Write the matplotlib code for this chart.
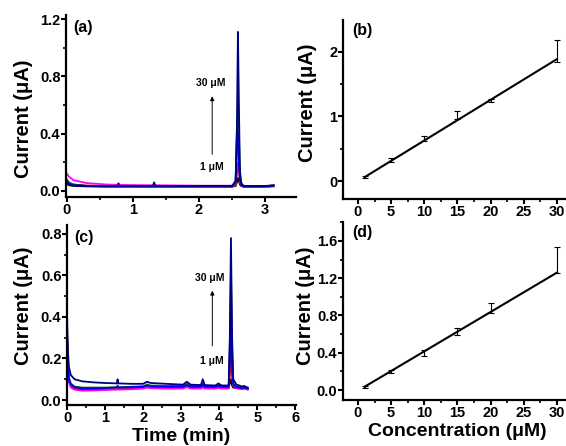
import matplotlib
matplotlib.use('Agg')
import matplotlib.pyplot as plt
from matplotlib.ticker import MultipleLocator, FormatStrFormatter

plt.rcParams['font.family'] = ['Liberation Sans', 'DejaVu Sans']
plt.rcParams['font.weight'] = 'bold'

# ---- panel (a): chromatograms, first electrode ----
t_a = [0.0, 0.03, 0.1, 0.3, 0.6, 0.76, 0.78, 0.80, 1.30, 1.32, 1.34, 2.0, 2.5,
       2.555, 2.575, 2.59, 2.605, 2.62, 2.64, 2.68, 3.0, 3.13]
a_black = [0.05, 0.04, 0.035, 0.032, 0.03, 0.03, 0.03, 0.03, 0.03, 0.03, 0.03, 0.03, 0.03,
           0.035, 0.06, 0.09, 0.07, 0.045, 0.035, 0.03, 0.03, 0.032]
a_red = [0.07, 0.055, 0.045, 0.038, 0.035, 0.035, 0.035, 0.035, 0.033, 0.033, 0.033, 0.032, 0.032,
         0.04, 0.12, 0.2, 0.15, 0.06, 0.035, 0.028, 0.03, 0.035]
a_magenta = [0.12, 0.1, 0.075, 0.055, 0.045, 0.043, 0.055, 0.042, 0.04, 0.045, 0.04, 0.037, 0.037,
             0.05, 0.25, 0.55, 0.3, 0.08, 0.04, 0.03, 0.03, 0.04]
a_green = [0.08, 0.06, 0.045, 0.035, 0.03, 0.03, 0.03, 0.03, 0.03, 0.03, 0.03, 0.03, 0.03,
           0.05, 0.35, 0.66, 0.4, 0.15, 0.06, 0.03, 0.03, 0.035]
a_blue = [0.07, 0.05, 0.04, 0.035, 0.034, 0.034, 0.034, 0.034, 0.034, 0.034, 0.034, 0.034, 0.034,
          0.06, 0.42, 0.4, 0.2, 0.08, 0.04, 0.033, 0.033, 0.038]
a_navy = [0.06, 0.045, 0.04, 0.035, 0.035, 0.035, 0.05, 0.035, 0.035, 0.06, 0.035, 0.035, 0.035,
          0.07, 0.45, 1.11, 0.6, 0.12, 0.05, 0.035, 0.035, 0.04]

# ---- panel (c): chromatograms, second electrode ----
t_c = [0.0, 0.02, 0.05, 0.1, 0.2, 0.4, 0.7, 1.0, 1.31, 1.33, 1.35, 1.7, 2.0, 2.1, 2.2, 2.6,
       3.05, 3.15, 3.25, 3.52, 3.57, 3.62, 3.9, 3.98, 4.06, 4.25, 4.28, 4.31, 4.34, 4.37,
       4.45, 4.6, 4.65, 4.75]
c_black = [0.3, 0.15, 0.09, 0.065, 0.055, 0.05, 0.05, 0.052, 0.055, 0.06, 0.055, 0.056, 0.058,
           0.062, 0.06, 0.058, 0.058, 0.065, 0.058, 0.058, 0.065, 0.058, 0.058, 0.062, 0.058,
           0.058, 0.08, 0.1, 0.07, 0.06, 0.058, 0.055, 0.057, 0.052]
c_red = [0.32, 0.18, 0.1, 0.07, 0.06, 0.055, 0.055, 0.056, 0.058, 0.065, 0.058, 0.06, 0.062,
         0.068, 0.064, 0.062, 0.062, 0.07, 0.062, 0.062, 0.07, 0.062, 0.062, 0.066, 0.062,
         0.062, 0.12, 0.2, 0.11, 0.07, 0.062, 0.058, 0.06, 0.055]
c_magenta = [0.3, 0.16, 0.09, 0.06, 0.05, 0.045, 0.046, 0.048, 0.05, 0.055, 0.05, 0.052, 0.055,
             0.06, 0.057, 0.055, 0.055, 0.062, 0.055, 0.055, 0.06, 0.055, 0.055, 0.058, 0.055,
             0.055, 0.2, 0.5, 0.2, 0.07, 0.056, 0.052, 0.054, 0.05]
c_green = [0.35, 0.2, 0.11, 0.08, 0.065, 0.06, 0.06, 0.06, 0.062, 0.07, 0.062, 0.064, 0.066,
           0.075, 0.07, 0.068, 0.068, 0.078, 0.068, 0.068, 0.08, 0.068, 0.068, 0.072, 0.068,
           0.068, 0.25, 0.62, 0.25, 0.08, 0.065, 0.06, 0.062, 0.058]
c_blue = [0.33, 0.19, 0.1, 0.075, 0.062, 0.057, 0.057, 0.058, 0.06, 0.066, 0.06, 0.062, 0.064,
          0.07, 0.066, 0.064, 0.064, 0.072, 0.064, 0.064, 0.074, 0.064, 0.064, 0.068, 0.064,
          0.064, 0.18, 0.4, 0.16, 0.075, 0.062, 0.058, 0.06, 0.056]
c_navy = [0.42, 0.25, 0.16, 0.12, 0.1, 0.09, 0.085, 0.082, 0.08, 0.1, 0.08, 0.078, 0.078,
          0.088, 0.082, 0.078, 0.074, 0.088, 0.074, 0.072, 0.1, 0.072, 0.07, 0.08, 0.07,
          0.07, 0.3, 0.78, 0.3, 0.1, 0.075, 0.065, 0.068, 0.06]

trace_colors = ['black', 'red', 'magenta', 'green', 'blue', 'navy']

# ---- calibration panels (b) and (d) ----
conc = [1, 5, 10, 15, 20, 30]
b_current = [0.06, 0.325, 0.66, 1.02, 1.245, 2.02]
b_err = [0.01, 0.025, 0.04, 0.06, 0.025, 0.17]
b_fit = (0.0631, -0.003)
d_current = [0.035, 0.195, 0.40, 0.63, 0.88, 1.40]
d_err = [0.01, 0.015, 0.03, 0.04, 0.05, 0.14]
d_fit = (0.04224, -0.007)

LABEL_SIZE = 14.5

fig = plt.figure(figsize=(5.66, 4.46), dpi=100)
W, H = 566.0, 446.0


def add_ax(l, t, r, b):
    return fig.add_axes([l / W, 1 - b / H, (r - l) / W, (b - t) / H])


def style(ax):
    for s in ['top', 'right']:
        ax.spines[s].set_visible(False)
    for s in ['left', 'bottom']:
        ax.spines[s].set_linewidth(1.6)
    ax.tick_params(which='major', direction='out', length=3.5, width=1.5, labelsize=10.5, pad=0.5)
    ax.tick_params(which='minor', direction='out', length=2.2, width=1.2)
    for lab in ax.get_xticklabels() + ax.get_yticklabels():
        lab.set_fontweight('bold')


ax_a = add_ax(66, 15, 296, 197)
ax_b = add_ax(343, 20, 566, 199)
ax_c = add_ax(67, 225, 296, 405)
ax_d = add_ax(343, 222, 566, 400)

# (a)
for c, y in zip(trace_colors, [a_black, a_red, a_magenta, a_green, a_blue, a_navy]):
    ax_a.plot(t_a, y, color=c, lw=1.3)
ax_a.set_xlim(-0.015, 3.47)
ax_a.set_ylim(-0.042, 1.228)
ax_a.xaxis.set_major_locator(MultipleLocator(1))
ax_a.xaxis.set_minor_locator(MultipleLocator(0.5))
ax_a.yaxis.set_major_locator(MultipleLocator(0.4))
ax_a.yaxis.set_minor_locator(MultipleLocator(0.2))
ax_a.yaxis.set_major_formatter(FormatStrFormatter('%.1f'))
ax_a.text(2.18, 0.754, '30 μM', fontsize=7.5, fontweight='bold', ha='center', va='center')
ax_a.text(2.19, 0.167, '1 μM', fontsize=7.5, fontweight='bold', ha='center', va='center')
ax_a.annotate('', xy=(2.2, 0.68), xytext=(2.2, 0.237),
              arrowprops=dict(arrowstyle='-|>', color='black', lw=0.7, mutation_scale=6))
ax_a.text(0.03, 0.97, '(a)', transform=ax_a.transAxes, fontsize=11.5, fontweight='bold', va='top')
ax_a.set_ylabel('Current (μA)', fontsize=LABEL_SIZE, fontweight='bold')
ax_a.yaxis.set_label_coords(-0.143, 0.43)

# (c)
for c, y in zip(trace_colors, [c_black, c_red, c_magenta, c_green, c_blue, c_navy]):
    ax_c.plot(t_c, y, color=c, lw=1.3)
ax_c.set_xlim(0, 6.02)
ax_c.set_ylim(-0.024, 0.843)
ax_c.xaxis.set_major_locator(MultipleLocator(1))
ax_c.xaxis.set_minor_locator(MultipleLocator(0.5))
ax_c.yaxis.set_major_locator(MultipleLocator(0.2))
ax_c.yaxis.set_minor_locator(MultipleLocator(0.1))
ax_c.yaxis.set_major_formatter(FormatStrFormatter('%.1f'))
ax_c.text(3.76, 0.59, '30 μM', fontsize=7.5, fontweight='bold', ha='center', va='center')
ax_c.text(3.8, 0.19, '1 μM', fontsize=7.5, fontweight='bold', ha='center', va='center')
ax_c.annotate('', xy=(3.82, 0.54), xytext=(3.82, 0.248),
              arrowprops=dict(arrowstyle='-|>', color='black', lw=0.7, mutation_scale=6))
ax_c.text(0.03, 0.97, '(c)', transform=ax_c.transAxes, fontsize=11.5, fontweight='bold', va='top')
ax_c.set_ylabel('Current (μA)', fontsize=LABEL_SIZE, fontweight='bold')
ax_c.yaxis.set_label_coords(-0.148, 0.55)
ax_c.set_xlabel('Time (min)', fontsize=14, fontweight='bold', va='baseline')
ax_c.xaxis.set_label_coords(0.5, -0.2)

# (b) and (d)
for ax, y, e, fit, lab in [(ax_b, b_current, b_err, b_fit, '(b)'),
                           (ax_d, d_current, d_err, d_fit, '(d)')]:
    ax.errorbar(conc, y, yerr=e, fmt='none', ecolor='black', elinewidth=0.8,
                capsize=2.5, capthick=0.8)
    xs = [conc[0], conc[-1]]
    ax.plot(xs, [fit[0] * x + fit[1] for x in xs], color='black', lw=1.5)
    ax.set_xlim(-2.26, 31.36)
    ax.xaxis.set_major_locator(MultipleLocator(5))
    ax.xaxis.set_minor_locator(MultipleLocator(2.5))
    ax.text(0.04, 0.985, lab, transform=ax.transAxes, fontsize=11.5, fontweight='bold', va='top')
    ax.set_ylabel('Current (μA)', fontsize=LABEL_SIZE, fontweight='bold')

ax_b.set_ylim(-0.279, 2.496)
ax_b.yaxis.set_major_locator(MultipleLocator(1))
ax_b.yaxis.set_minor_locator(MultipleLocator(0.5))
ax_b.yaxis.set_label_coords(-0.117, 0.54)

ax_d.set_ylim(-0.107, 1.803)
ax_d.yaxis.set_major_locator(MultipleLocator(0.4))
ax_d.yaxis.set_minor_locator(MultipleLocator(0.2))
ax_d.yaxis.set_major_formatter(FormatStrFormatter('%.1f'))
ax_d.yaxis.set_label_coords(-0.126, 0.53)
ax_d.set_xlabel('Concentration (μM)', fontsize=14, fontweight='bold', va='baseline')
ax_d.xaxis.set_label_coords(0.513, -0.2)

for ax in [ax_a, ax_b, ax_c, ax_d]:
    style(ax)

fig.savefig('out.png', dpi=100)
